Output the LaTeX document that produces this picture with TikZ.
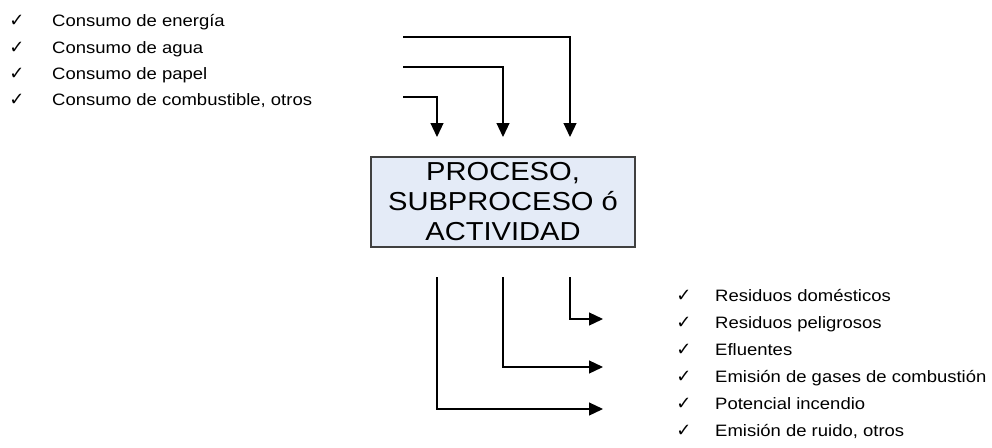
\documentclass[tikz,border=0pt]{standalone}
\usepackage{fontspec}
\setmainfont{Liberation Sans}[FakeStretch=1.12]
\newfontfamily\checkfont{DejaVu Sans}
\usetikzlibrary{arrows.meta}
\definecolor{boxblue}{RGB}{228,235,247}
\tikzset{
  item/.style={anchor=base west, inner sep=0pt, font=\fontsize{16.5}{18}\selectfont},
  tick/.style={anchor=base, inner sep=0pt, font=\checkfont\fontsize{18}{18}\selectfont},
  flow/.style={line width=1.2pt, -{Triangle[length=14pt,width=13pt]}},
  procbox/.style={draw=black!75, line width=1.5pt, fill=boxblue, minimum width=264pt,
    minimum height=90pt, align=center, inner sep=0pt, font=\fontsize{26}{30}\selectfont}
}
\begin{document}
\begin{tikzpicture}[x=1pt,y=-1pt]
  \useasboundingbox (0,0) rectangle (992,447);
  \node[procbox] (proc) at (503,202) {PROCESO,\\SUBPROCESO ó\\ACTIVIDAD};

  % entradas
  \foreach \t [count=\i] in {Consumo de energía, Consumo de agua, Consumo de papel,
      {Consumo de combustible, otros}} {
    \node[tick] (ckin\i) at (17, {27+26*(\i-1)}) {✓};
    \node[item] (in\i) at (52, {27+26*(\i-1)}) {\t};
  }
  \coordinate (src1) at (403,97);  \coordinate (dst1) at (437,137);
  \coordinate (src2) at (403,67);  \coordinate (dst2) at (503,137);
  \coordinate (src3) at (403,37);  \coordinate (dst3) at (570,137);
  \draw[flow] (src1) -| (dst1);
  \draw[flow] (src2) -| (dst2);
  \draw[flow] (src3) -| (dst3);

  % salidas
  \foreach \t [count=\i] in {Residuos domésticos, Residuos peligrosos, Efluentes,
      Emisión de gases de combustión, Potencial incendio, {Emisión de ruido, otros}} {
    \node[tick] (ckout\i) at (684, {301+27*(\i-1)}) {✓};
    \node[item] (out\i) at (715, {301+27*(\i-1)}) {\t};
  }
  \coordinate (from1) at (570,277);  \coordinate (to1) at (603,319);
  \coordinate (from2) at (503,277);  \coordinate (to2) at (603,367);
  \coordinate (from3) at (437,277);  \coordinate (to3) at (603,409);
  \draw[flow] (from1) |- (to1);
  \draw[flow] (from2) |- (to2);
  \draw[flow] (from3) |- (to3);
\end{tikzpicture}
\end{document}
